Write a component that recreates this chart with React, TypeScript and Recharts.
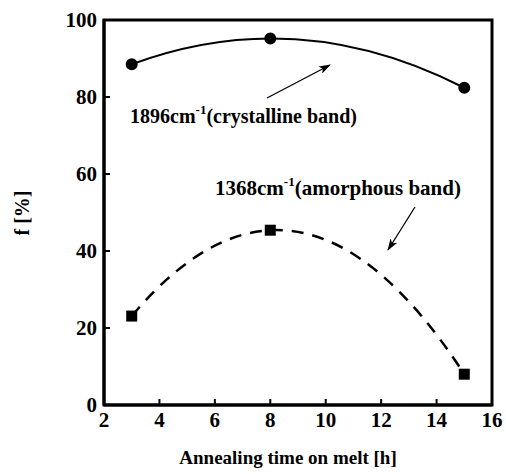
import React from 'react';
import { LineChart, Line, XAxis, YAxis, ReferenceArea, Customized } from 'recharts';

const hours = [3, 8, 15];
const crystalline = [88.5, 95.2, 82.4];
const amorphous = [23.1, 45.4, 8.0];
const xTicks = [2, 4, 6, 8, 10, 12, 14, 16];
const yTicks = [0, 20, 40, 60, 80, 100];

const crystallineData = hours.map((h, i) => ({ x: h, y: crystalline[i] }));
const amorphousData = hours.map((h, i) => ({ x: h, y: amorphous[i] }));

const FONT = 'Liberation Serif';
const textStyle = { fontFamily: FONT, fontWeight: 700 };
const css = `#serif-chart, #serif-chart svg, #serif-chart text, #serif-chart tspan { font-family: 'Liberation Serif', serif !important; }`;

// smooth fitted curve: a parabola through three points, drawn as one quadratic bezier
const parabolaCurve = (context: any) => {
  let pts: number[][] = [];
  return {
    areaStart() {},
    areaEnd() {},
    lineStart() {
      pts = [];
    },
    point(x: number, y: number) {
      pts.push([+x, +y]);
    },
    lineEnd() {
      if (pts.length === 3) {
        const [[x0, y0], [x1, y1], [x2, y2]] = pts;
        const s01 = (y1 - y0) / (x1 - x0);
        const s12 = (y2 - y1) / (x2 - x1);
        const a = (s12 - s01) / (x2 - x0);
        const b = s01 - a * (x0 + x1);
        const d0 = 2 * a * x0 + b;
        const xm = (x0 + x2) / 2;
        context.moveTo(x0, y0);
        context.quadraticCurveTo(xm, y0 + d0 * (xm - x0), x2, y2);
      } else {
        pts.forEach((p, i) => (i ? context.lineTo(p[0], p[1]) : context.moveTo(p[0], p[1])));
      }
    },
  };
};

const XTick = (props: any) => {
  const { x, y, payload } = props;
  return (
    <text x={x} y={y + 15} textAnchor="middle" fontSize={21} fill="#000" style={textStyle}>
      {payload.value}
    </text>
  );
};

const YTick = (props: any) => {
  const { x, y, payload } = props;
  return (
    <text x={x} y={y + 7} textAnchor="end" fontSize={21} fill="#000" style={textStyle}>
      {payload.value}
    </text>
  );
};

const SquareDot = (props: any) => {
  const { cx, cy } = props;
  if (cx == null || cy == null) return null;
  return <rect x={cx - 5.5} y={cy - 5.5} width={11} height={11} fill="#000" />;
};

const Annotations = () => (
  <g fill="#000">
    <defs>
      <marker id="arrowHead" markerWidth={12} markerHeight={8} refX={11} refY={4} orient="auto" markerUnits="userSpaceOnUse">
        <path d="M0,0 L12,4 L0,8 L3,4 z" fill="#000" />
      </marker>
    </defs>
    <text x={130} y={123} fontSize={20} style={textStyle}>
      1896cm<tspan dy={-9} fontSize={13}>-1</tspan>
      <tspan dy={9}>(crystalline band)</tspan>
    </text>
    <line x1={267} y1={98} x2={330} y2={65} stroke="#000" strokeWidth={1.3} markerEnd="url(#arrowHead)" />
    <text x={215} y={195} fontSize={21} style={textStyle}>
      1368cm<tspan dy={-9} fontSize={13}>-1</tspan>
      <tspan dy={9}>(amorphous band)</tspan>
    </text>
    <line x1={415} y1={207} x2={388} y2={250} stroke="#000" strokeWidth={1.3} markerEnd="url(#arrowHead)" />
    <text x={22} y={213} fontSize={20} style={textStyle} textAnchor="middle" dominantBaseline="central" transform="rotate(-90 22 213)">
      f [%]
    </text>
    <text x={288} y={464} fontSize={19} style={textStyle} textAnchor="middle">
      Annealing time on melt [h]
    </text>
  </g>
);

export default function App() {
  return (
    <div id="serif-chart" style={{ position: 'absolute', left: 0, top: 0, width: 506, height: 474, background: '#fff' }}>
      <style>{css}</style>
      <LineChart width={506} height={474} margin={{ top: 20, right: 14, bottom: 29, left: 60 }}>
        <XAxis
          dataKey="x"
          type="number"
          domain={[2, 16]}
          ticks={xTicks}
          allowDuplicatedCategory={false}
          height={40}
          axisLine={{ stroke: '#000', strokeWidth: 3 }}
          tickLine={{ stroke: '#000', strokeWidth: 2 }}
          tickSize={-6}
          tickMargin={13}
          tick={<XTick />}
        />
        <YAxis
          type="number"
          domain={[0, 100]}
          ticks={yTicks}
          width={44}
          axisLine={{ stroke: '#000', strokeWidth: 3 }}
          tickLine={{ stroke: '#000', strokeWidth: 2 }}
          tickSize={-6}
          tickMargin={13}
          tick={<YTick />}
        />
        <ReferenceArea x1={2} x2={16} y1={0} y2={100} fill="none" stroke="#000" strokeWidth={3} ifOverflow="visible" />
        <Line
          data={crystallineData}
          dataKey="y"
          type={parabolaCurve as any}
          stroke="#000"
          strokeWidth={2}
          dot={{ r: 5, fill: '#000', stroke: '#000' }}
          isAnimationActive={false}
        />
        <Line
          data={amorphousData}
          dataKey="y"
          type={parabolaCurve as any}
          stroke="#000"
          strokeWidth={2.5}
          strokeDasharray="12 9"
          dot={<SquareDot />}
          isAnimationActive={false}
        />
        <Customized component={Annotations} />
      </LineChart>
    </div>
  );
}
